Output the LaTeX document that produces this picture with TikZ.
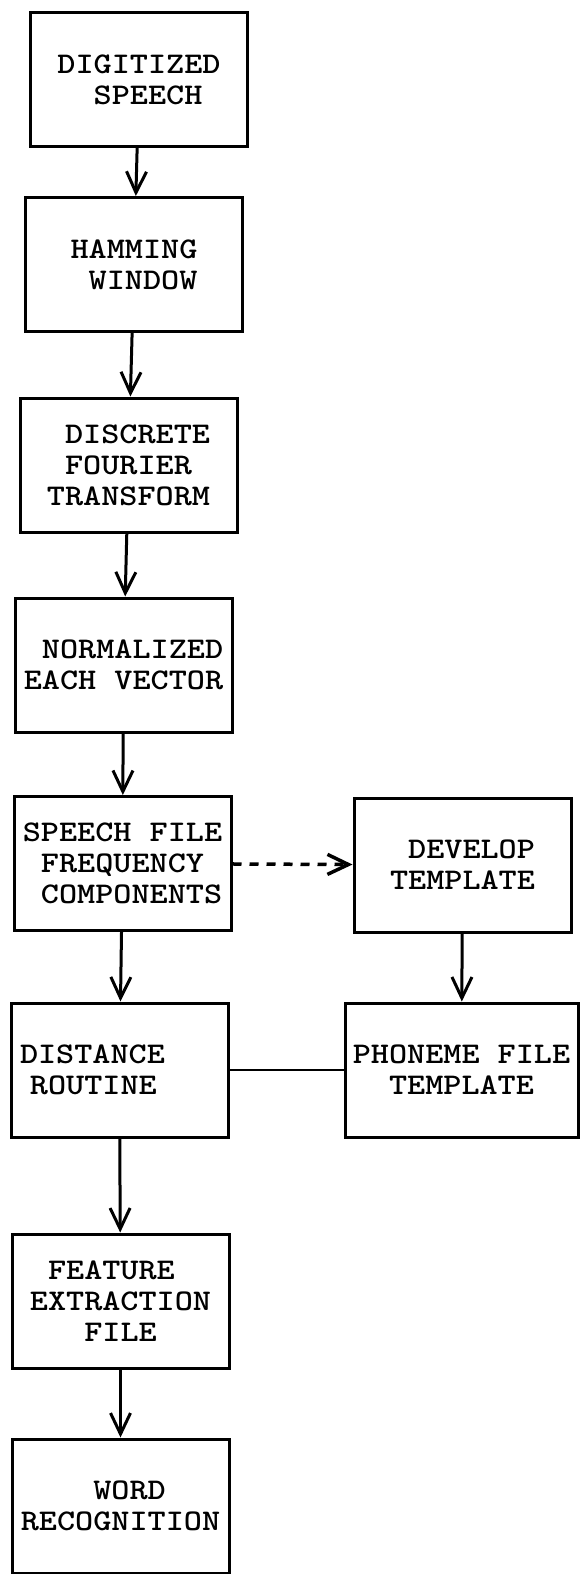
\documentclass[tikz,border=0pt]{standalone}
\usepackage{fontspec}
\setmonofont{lmmonolt10-bold.otf}[FakeStretch=1.15]
\usetikzlibrary{arrows.meta}

\begin{document}
\begin{tikzpicture}
    [x=1pt, y=-1pt,
    line width=3pt,
    block/.style={draw, line width=3pt, minimum width=217pt, minimum height=134pt,
        align=left, inner sep=0pt, font=\ttfamily\fontsize{30}{31}\selectfont},
    flow/.style={-{Straight Barb[length=21pt, width=20pt]}, line width=3pt},
    dots/.style={flow, dash pattern=on 9pt off 8pt, line width=3.5pt}]
        \useasboundingbox (0,0) rectangle (582,1574);

        \node[block] (dig) at (139,79.5) {DIGITIZED\\~~SPEECH};
        \node[block] (ham) at (134,264.5) {HAMMING\\~WINDOW};
        \node[block] (dft) at (128.5,465) {~DISCRETE\\~FOURIER\\TRANSFORM};
        \node[block] (norm) at (123.5,665) {~NORMALIZED\\EACH VECTOR};
        \node[block] (spf) at (122.5,863.5) {SPEECH FILE\\~FREQUENCY\\~COMPONENTS};
        \node[block] (dev) at (462.5,865) {~DEVELOP\\TEMPLATE};
        \node[block, text width=199pt, inner xsep=9pt] (dist) at (119.5,1070) {DISTANCE\\~ROUTINE};
        \node[block, minimum width=233pt] (phon) at (461.5,1070) {PHONEME FILE\\~~TEMPLATE};
        \node[block] (feat) at (120.5,1301) {~FEATURE\\EXTRACTION\\~~~FILE};
        \node[block] (word) at (120.5,1506) {~~~~WORD\\RECOGNITION};

        \draw[flow] (dig) -- (ham);
        \draw[flow] (ham) -- (dft);
        \draw[flow] (dft) -- (norm);
        \draw[flow] (norm) -- (spf);
        \draw[flow] (spf) -- (dist);
        \draw[dots] (spf) -- (dev);
        \draw[flow] (dev) -- (phon);
        \draw[line width=2.5pt] (dist) -- (phon);
        \draw[flow] (dist) -- (feat);
        \draw[flow] (feat) -- (word);
\end{tikzpicture}
\end{document}
